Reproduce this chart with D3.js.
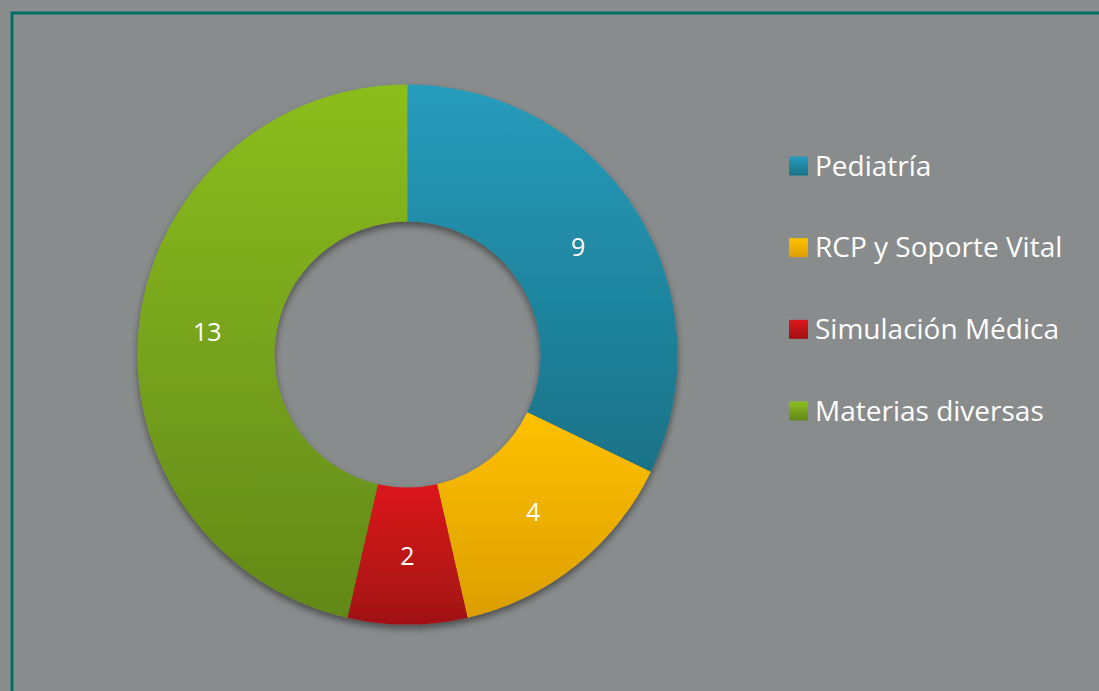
<!DOCTYPE html>
<html><head><meta charset="utf-8">
<script src="https://cdn.jsdelivr.net/npm/d3@7"></script>
<style>html,body{margin:0;padding:0;background:#898c8c;}svg{display:block;}</style>
</head><body>
<svg id="c" width="1099" height="691"></svg>
<script>
const categories = ["Pediatría", "RCP y Soporte Vital", "Simulación Médica", "Materias diversas"];
const values = [9, 4, 2, 13];
const colorTop = ["#269cbc", "#ffc100", "#dc171b", "#8bbe1f"];
const colorBottom = ["#197287", "#dc9e00", "#a11113", "#628818"];

const svg = d3.select("#c");
const W = 1099, H = 691;
svg.append("rect").attr("width", W).attr("height", H).attr("fill", "#898c8c");
svg.append("rect").attr("x", 12).attr("y", 13).attr("width", W + 20).attr("height", H + 20)
  .attr("fill", "none").attr("stroke", "#006f66").attr("stroke-width", 3);

const defs = svg.append("defs");
const f = defs.append("filter").attr("id", "sh").attr("x", "-20%").attr("y", "-20%").attr("width", "140%").attr("height", "140%");
f.append("feDropShadow").attr("dx", 0).attr("dy", 4).attr("stdDeviation", 3.5)
  .attr("flood-color", "#000").attr("flood-opacity", 0.45);

categories.forEach((c, i) => {
  const lg = defs.append("linearGradient").attr("id", "lg" + i).attr("x1", 0).attr("y1", 0).attr("x2", 0).attr("y2", 1);
  lg.append("stop").attr("offset", 0).attr("stop-color", colorTop[i]);
  lg.append("stop").attr("offset", 1).attr("stop-color", colorBottom[i]);
});

const cx = 407.5, cy = 354.5, R = 270, r = 133;
const pie = d3.pie().sort(null).value(d => d)(values);
const arc = d3.arc().innerRadius(r).outerRadius(R);
const g = svg.append("g").attr("transform", `translate(${cx},${cy})`);
g.append("g").attr("filter", "url(#sh)").selectAll("path").data(pie).join("path")
  .attr("d", arc)
  .attr("fill", (d, i) => `url(#lg${i})`);

g.selectAll("text").data(pie).join("text")
  .attr("transform", d => `translate(${arc.centroid(d)})`)
  .attr("text-anchor", "middle").attr("dy", "0.36em")
  .attr("fill", "#fff").attr("font-family", "Open Sans, sans-serif").attr("font-size", 25)
  .text(d => d.data);

const leg = svg.append("g");
const ys = d3.scalePoint().domain(categories).range([166, 411]);
categories.forEach((c, i) => {
  const y = ys(c);
  leg.append("rect").attr("x", 789).attr("y", y - 9.5).attr("width", 19).attr("height", 19).attr("fill", `url(#lg${i})`);
  leg.append("text").attr("x", 815).attr("y", y).attr("dy", "0.35em")
    .attr("fill", "#fff").attr("font-family", "Open Sans, sans-serif").attr("font-size", 28)
    .text(c);
});
</script>
</body></html>
